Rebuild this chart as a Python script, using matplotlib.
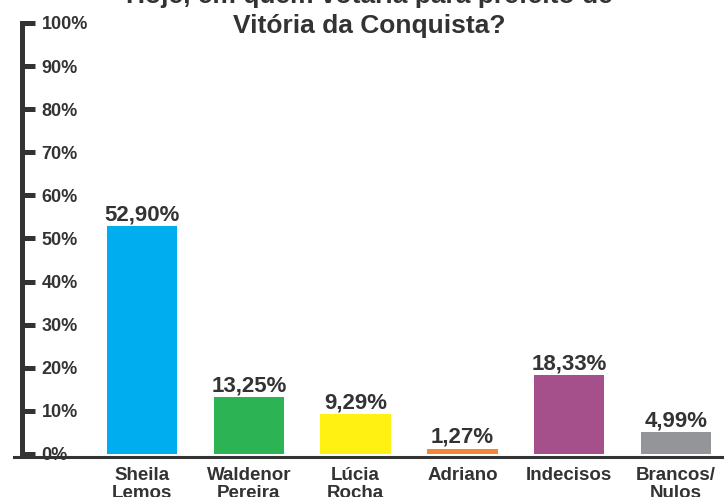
import matplotlib.pyplot as plt
import numpy as np

# Datos de la encuesta
candidatos = ['Sheila\nLemos', 'Waldenor\nPereira', 'Lúcia\nRocha', 'Adriano', 'Indecisos', 'Brancos/\nNulos']
porcentajes = [52.90, 13.25, 9.29, 1.27, 18.33, 4.99]
etiquetas = ['52,90%', '13,25%', '9,29%', '1,27%', '18,33%', '4,99%']
colores = ['#00aeef', '#2bb354', '#fff212', '#f58634', '#a6508b', '#939598']
ticks_y = [0, 10, 20, 30, 40, 50, 60, 70, 80, 90, 100]
titulo = 'Hoje, em quem votaria para prefeito de\nVitória da Conquista?'

gris = '#333333'
plt.rcParams['font.family'] = ['Liberation Sans', 'DejaVu Sans']
plt.rcParams['font.weight'] = 'bold'

fig = plt.figure(figsize=(7.24, 4.97), dpi=100)
W, H = 724, 497
ax = fig.add_axes([14 / W, 1 - 454 / H, 710 / W, 431 / H])

x = np.arange(len(candidatos))
ax.bar(x, porcentajes, width=0.66, color=colores)

# Etiquetas de valor encima de cada barra
for xi, v, t in zip(x, porcentajes, etiquetas):
    ax.annotate(t, (xi, v), xytext=(0, 4), textcoords='offset points',
                ha='center', va='baseline', fontsize=16, fontweight='bold', color=gris)

ax.set_ylim(0, 100)
ax.set_xlim(-1.2, 5.45)

# Eje Y con la línea gruesa y etiquetas a la derecha
for s in ['top', 'right']:
    ax.spines[s].set_visible(False)
ax.spines['left'].set_position(('axes', 8 / 710))
ax.spines['left'].set_linewidth(3.6)
ax.spines['left'].set_color(gris)
ax.spines['left'].set_bounds(0, 100)
ax.spines['bottom'].set_position(('outward', 2.5))
ax.spines['bottom'].set_linewidth(2.2)
ax.spines['bottom'].set_color(gris)

ax.set_yticks(ticks_y)
ax.set_yticklabels([f'{t}%' for t in ticks_y])
ax.tick_params(axis='y', direction='in', length=9, width=3.6, color=gris,
               pad=-14, labelsize=13, labelcolor=gris)
for lab in ax.get_yticklabels():
    lab.set_horizontalalignment('left')
    lab.set_fontweight('bold')

ax.set_xticks(x)
ax.set_xticklabels(candidatos, fontsize=13.5, fontweight='bold', color=gris, linespacing=1.1)
ax.tick_params(axis='x', length=0, pad=7)

fig.text(369 / W, 1 - 33 / H, titulo, ha='center', va='baseline',
         fontsize=19, fontweight='bold', color=gris, linespacing=1.32)

fig.savefig('out.png', dpi=100)
